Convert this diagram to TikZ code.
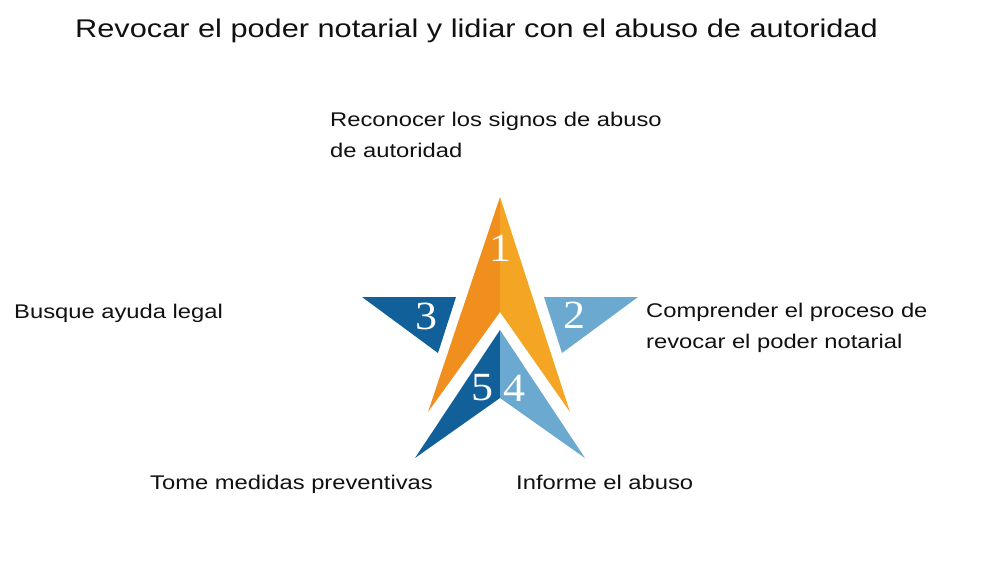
\documentclass[tikz,border=0pt]{standalone}
\usepackage{fontspec}
\setmainfont{Liberation Sans}[FakeStretch=1.2]
\newfontfamily\numfont{Liberation Serif}[FakeStretch=1.1]
\definecolor{orA}{HTML}{F08F1E}
\definecolor{orB}{HTML}{F5A524}
\definecolor{blD}{HTML}{12609A}
\definecolor{blL}{HTML}{6CA9D0}
\definecolor{txt}{HTML}{111111}
\begin{document}
\begin{tikzpicture}[x=1pt,y=-1pt,
  lbl/.style={anchor=base west, inner sep=0, text=txt, font=\fontsize{19.8}{30.5}\selectfont, align=left},
  ttl/.style={anchor=base west, inner sep=0, text=txt, font=\fontsize{25.6}{30}\selectfont},
  num/.style={text=white, inner sep=0, font=\numfont\fontsize{40}{40}\selectfont}]
\useasboundingbox (0,0) rectangle (1000,562);
\fill[white] (0,0) rectangle (1000,562);
% star pieces
\fill[orA] (500,197) -- (428,412) -- (500,312) -- cycle;
\fill[orB] (500,197) -- (570,412) -- (500,312) -- cycle;
\fill[blD] (500,330) -- (415,458) -- (500,398) -- cycle;
\fill[blL] (500,330) -- (585,458) -- (500,398) -- cycle;
\fill[blD] (362,297) -- (456,297) -- (438,353) -- cycle;
\fill[blL] (544,297) -- (638,297) -- (562,353) -- cycle;
% numbers
\node[num] (n1) at (500,248) {1};
\node[num] (n2) at (574,315) {2};
\node[num] (n3) at (426,316) {3};
\node[num] (n5) at (482,388) {5};
\node[num] (n4) at (514,388) {4};
% texts
\node[ttl] (title) at (75,37) {Revocar el poder notarial y lidiar con el abuso de autoridad};
\node[lbl] (t1) at (330,157) {Reconocer los signos de abuso\\de autoridad};
\node[lbl] (t2) at (646,348) {Comprender el proceso de\\revocar el poder notarial};
\node[lbl] (t3) at (14,318) {Busque ayuda legal};
\node[lbl] (t5) at (150,489) {Tome medidas preventivas};
\node[lbl] (t4) at (516,489) {Informe el abuso};
\end{tikzpicture}
\end{document}
